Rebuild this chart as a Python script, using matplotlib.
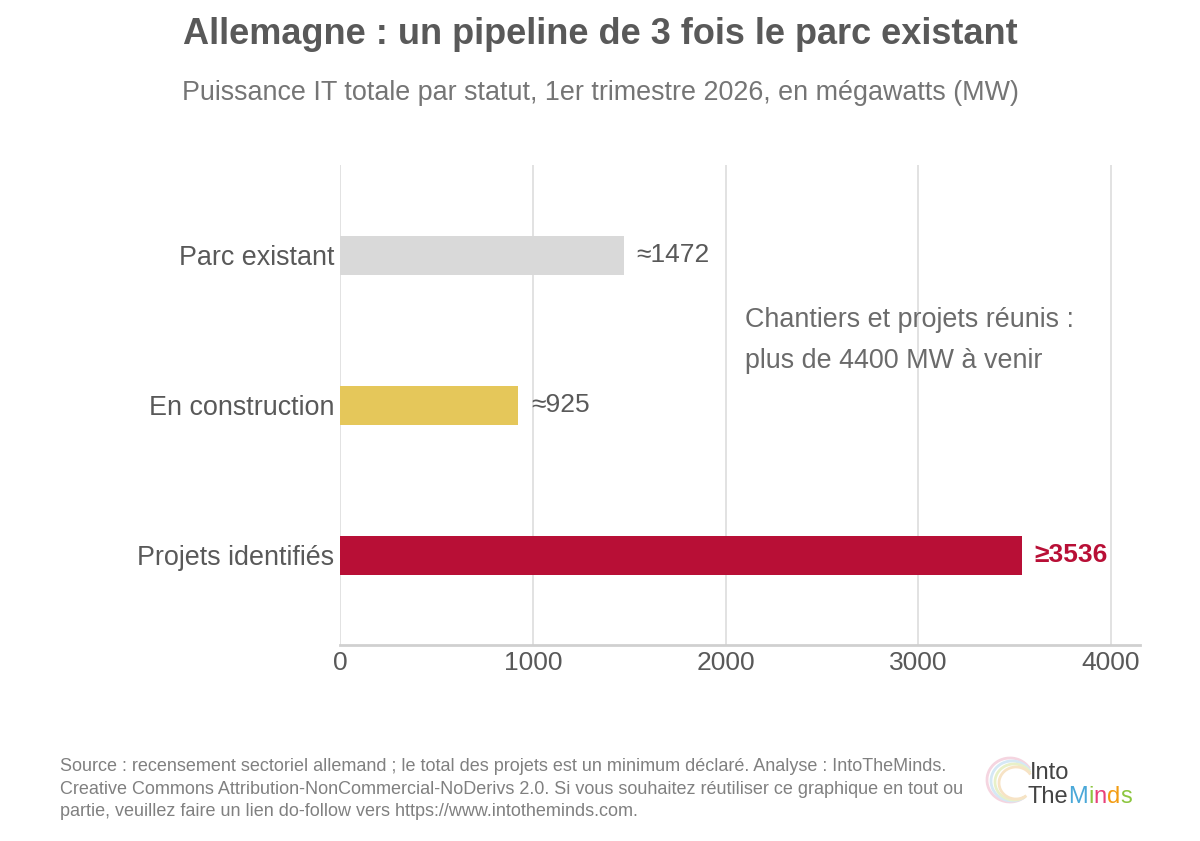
import matplotlib.pyplot as plt
from matplotlib.patches import Arc

plt.rcParams['font.family'] = ['Liberation Sans', 'DejaVu Sans']

CATEGORIES = ['Parc existant', 'En construction', 'Projets identifiés']
VALUES = [1472, 925, 3536]
LABELS = ['≈1472', '≈925', '≥3536']
COLORS = ['#d9d9d9', '#e5c75a', '#b80f36']
XTICKS = [0, 1000, 2000, 3000, 4000]

TEXT = '#595959'

fig = plt.figure(figsize=(12, 8.41), dpi=100)
ax = fig.add_axes([340 / 1200, 1 - 645 / 841, 800 / 1200, 480 / 841])

ypos = list(range(len(CATEGORIES)))
ax.barh(ypos, VALUES, height=0.26, color=COLORS, zorder=3)
ax.set_xlim(0, 4150)
ax.set_ylim(2.6, -0.6)
ax.set_yticks(ypos)
ax.set_yticklabels(CATEGORIES, fontsize=19.4, color=TEXT)
ax.set_xticks(XTICKS)
ax.set_xticklabels([str(t) for t in XTICKS], fontsize=19, color=TEXT)
ax.tick_params(axis='y', length=0, pad=4)
ax.tick_params(axis='x', length=0, pad=4)
ax.grid(axis='x', color='#dddddd', linewidth=1.2, zorder=0)
for s in ['top', 'right', 'left']:
    ax.spines[s].set_visible(False)
ax.spines['bottom'].set_color('#d0d0d0')
ax.spines['bottom'].set_linewidth(2)

for i, (v, lab) in enumerate(zip(VALUES, LABELS)):
    last = i == len(VALUES) - 1
    ax.text(v + 65, i, lab, va='center', ha='left', fontsize=19,
            color=COLORS[i] if last else TEXT,
            fontweight='bold' if last else 'normal')

ax.text(2101, 0.57, 'Chantiers et projets réunis :\nplus de 4400 MW à venir',
        fontsize=19.4, color='#6b6b6b', va='center', ha='left', linespacing=1.75)

fig.text(0.5, 1 - 35 / 841, 'Allemagne : un pipeline de 3 fois le parc existant',
         ha='center', va='center', fontsize=26, fontweight='bold', color=TEXT)
fig.text(0.5, 1 - 93 / 841,
         'Puissance IT totale par statut, 1er trimestre 2026, en mégawatts (MW)',
         ha='center', va='center', fontsize=19.4, color='#757575')

fig.text(60 / 1200, 1 - 789 / 841,
         'Source : recensement sectoriel allemand ; le total des projets est un minimum déclaré. Analyse : IntoTheMinds.\n'
         'Creative Commons Attribution-NonCommercial-NoDerivs 2.0. Si vous souhaitez réutiliser ce graphique en tout ou\n'
         'partie, veuillez faire un lien do-follow vers https://www.intotheminds.com.',
         ha='left', va='center', fontsize=13, color='#808080', linespacing=1.42)

# logo: faint brain arcs + wordmark
for k, col in enumerate(['#f5d5e0', '#d5e8f5', '#e8f0c8', '#f7e3c5']):
    fig.patches.append(Arc(((1010 + k * 2) / 1200, 1 - (780 + k) / 841),
                           (46 - k * 4) / 1200, (44 - k * 4) / 841,
                           theta1=40, theta2=300, color=col, lw=2,
                           transform=fig.transFigure))
fig.text(1030 / 1200, 1 - 773 / 841, 'Into', fontsize=17, color='#444444',
         ha='left', va='center')
logo = [('The', '#444444'), ('M', '#4aa8d8'), ('i', '#8cc63f'),
        ('n', '#e8407a'), ('d', '#f39c12'), ('s', '#8cc63f')]
fig.canvas.draw()
renderer = fig.canvas.get_renderer()
xx = 1028
for part, col in logo:
    t = fig.text(xx / 1200, 1 - 797 / 841, part, fontsize=17, color=col,
                 ha='left', va='center')
    xx += t.get_window_extent(renderer).width

fig.savefig('out.png', dpi=100, facecolor='white')
